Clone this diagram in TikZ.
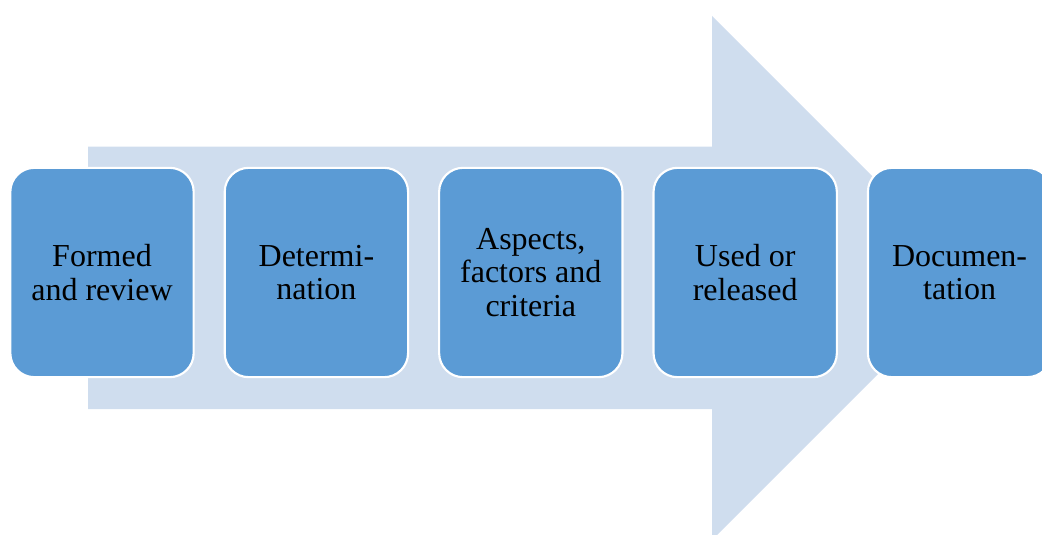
\documentclass[tikz,border=0pt]{standalone}
\usepackage{fontspec}
\setmainfont{Liberation Serif}
\usepackage{tikz}
\usetikzlibrary{positioning}
\definecolor{boxblue}{HTML}{5B9BD5}
\definecolor{arrowblue}{HTML}{CFDDEE}

\begin{document}
\begin{tikzpicture}[x=0.75pt,y=-0.75pt,
  stage/.style={draw=white,line width=1.6pt,fill=boxblue,rounded corners=18pt,
    minimum width=137.5pt,minimum height=157pt,align=center,inner sep=0pt,
    font=\fontsize{24}{25}\selectfont},
  node distance=21.7pt]
\useasboundingbox (0,0) rectangle (1042,535);
\clip (0,0) rectangle (1042,535);
% big arrow behind the steps
\fill[arrowblue] (88,146.5)--(712,146.5)--(712,16)--(974,278)--(712,540)--(712,409)--(88,409)--cycle;
% the steps
\node[stage] (formed) at (102,272.5) {Formed\\and review};
\node[stage,right=of formed] (determ) {Determi-\\nation};
\node[stage,right=of determ] (aspects) {Aspects,\\factors and\\criteria};
\node[stage,right=of aspects] (used) {Used or\\released};
\node[stage,right=of used] (docu) {Documen-\\tation};
\end{tikzpicture}
\end{document}
